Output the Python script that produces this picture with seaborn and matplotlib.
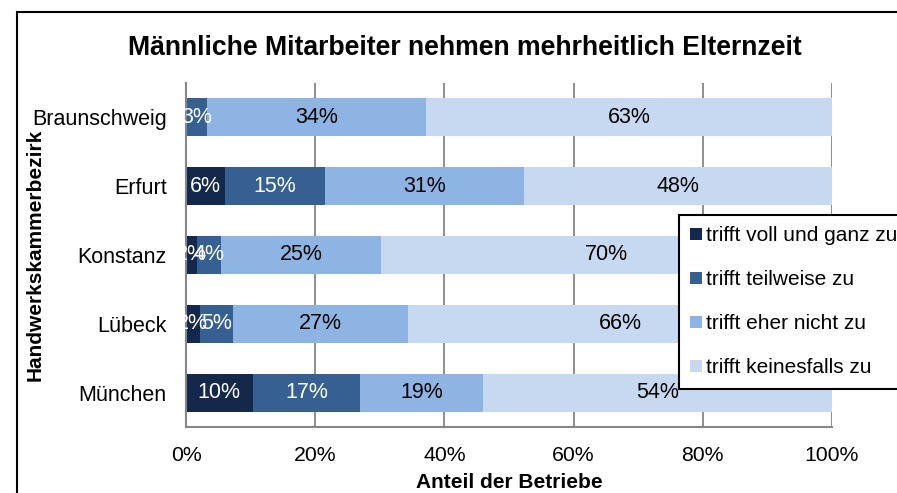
import matplotlib
matplotlib.use("Agg")
import numpy as np
import pandas as pd
import seaborn as sns
import matplotlib.pyplot as plt
from matplotlib.patches import Rectangle, Patch
from matplotlib.ticker import FixedLocator

districts = ["Braunschweig", "Erfurt", "Konstanz", "Lübeck", "München"]
series = ["trifft voll und ganz zu", "trifft teilweise zu",
          "trifft eher nicht zu", "trifft keinesfalls zu"]
voll = [0.0, 6.1, 1.75, 2.1, 10.3]
teilweise = [3.2, 15.4, 3.6, 5.2, 16.7]
eher_nicht = [34.0, 30.8, 24.9, 27.1, 19.0]
keinesfalls = [62.8, 47.7, 69.7, 65.6, 54.0]
xticks = [0, 20, 40, 60, 80, 100]
xticklabels = ["0%", "20%", "40%", "60%", "80%", "100%"]

title = "Männliche Mitarbeiter nehmen mehrheitlich Elternzeit"
xlabel = "Anteil der Betriebe"
ylabel = "Handwerkskammerbezirk"

colors = ["#13284A", "#376092", "#8EB4E3", "#C6D9F1"]
text_colors = ["white", "white", "black", "black"]

sns.set_style("white")
plt.rcParams["font.family"] = ["Liberation Sans", "DejaVu Sans"]
plt.rcParams["text.color"] = "black"

values = np.array([voll, teilweise, eher_nicht, keinesfalls])
cum = np.cumsum(values, axis=0)
starts = cum - values

fig = plt.figure(figsize=(8.97, 4.93), dpi=100)
ax = fig.add_axes([186 / 897, 1 - 427 / 493, 646 / 897, 344 / 493])

# draw stacked bars from the full length down to the first segment
for k in range(3, -1, -1):
    df = pd.DataFrame({"Bezirk": districts, "Wert": cum[k]})
    sns.barplot(data=df, x="Wert", y="Bezirk", order=districts, orient="h",
                color=colors[k], saturation=1, width=0.55, ax=ax,
                edgecolor="none", linewidth=0)

# data labels
for k in range(4):
    for i, d in enumerate(districts):
        v = values[k, i]
        if v <= 0:
            continue
        ax.text(starts[k, i] + v / 2, i, f"{round(v):d}%", ha="center",
                va="center", fontsize=15.5, color=text_colors[k])

ax.set_xlim(0, 100)
ax.set_ylim(4.5, -0.5)
ax.set_axisbelow(True)
ax.xaxis.grid(True, color="#868686", linewidth=1.3)
ax.yaxis.grid(False)

grey = "#868686"
for s in ["top", "right"]:
    ax.spines[s].set_visible(False)
for s in ["left", "bottom"]:
    ax.spines[s].set_color(grey)
    ax.spines[s].set_linewidth(1.5)

ax.set_xticks(xticks)
ax.set_xticklabels(xticklabels, fontsize=15.3)
ax.tick_params(axis="x", direction="out", length=6, width=1.3, color=grey,
               pad=8, labelcolor="black")
ax.set_yticks(range(len(districts)))
ax.set_yticklabels(districts, fontsize=15.5)
ax.tick_params(axis="y", which="major", length=0, pad=14, labelcolor="black")
ax.yaxis.set_minor_locator(FixedLocator(np.arange(-0.5, 5.0, 1.0)))
ax.tick_params(axis="y", which="minor", direction="out", length=6, width=1.3,
               color=grey)

ax.set_xlabel("")
ax.set_ylabel("")
fig.text(509 / 897, 1 - 483 / 493, xlabel, ha="center", va="center",
         fontsize=15, fontweight="bold", color="black")
fig.text(35 / 897, 1 - 255 / 493, ylabel, ha="center", va="center",
         rotation=90, fontsize=15, fontweight="bold", color="black")
fig.text(465 / 897, 1 - 48 / 493, title, ha="center", va="center",
         fontsize=19.2, fontweight="bold", color="black")

handles = [Patch(facecolor=c, edgecolor="none") for c in colors]
leg = fig.legend(handles, series, loc="upper left",
                 bbox_to_anchor=(679 / 897, 1 - 215 / 493),
                 bbox_transform=fig.transFigure, borderaxespad=0,
                 fontsize=15.0, frameon=True, fancybox=False, shadow=False,
                 handlelength=0.55, handleheight=0.55, handletextpad=0.2,
                 borderpad=0.55, labelspacing=1.2)
leg.get_frame().set_edgecolor("black")
leg.get_frame().set_linewidth(1.5)
leg.get_frame().set_facecolor("white")
leg.get_frame().set_alpha(1)

frame = Rectangle((17 / 897, -0.5), 2.0, (1 - 12 / 493) + 0.5,
                  transform=fig.transFigure, fill=False, edgecolor="black",
                  linewidth=1.5, clip_on=False)
fig.add_artist(frame)

fig.savefig("out.png", dpi=100)
